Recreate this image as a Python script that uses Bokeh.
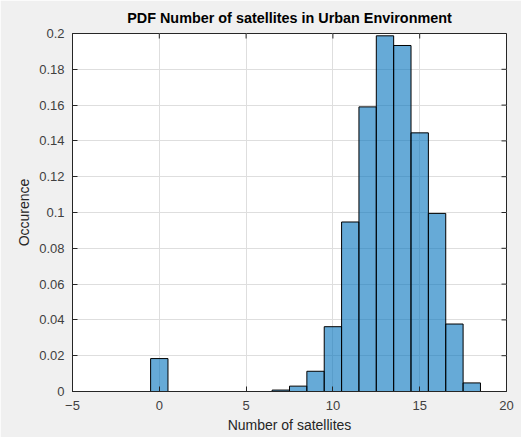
from bokeh.plotting import figure
from bokeh.models import FixedTicker, Range1d, ColumnDataSource
from bokeh.embed import file_html
from bokeh.resources import INLINE

# Data: number of satellites (bin centers) and PDF values
satellites = [0, 7, 8, 9, 10, 11, 12, 13, 14, 15, 16, 17, 18]
pdf = [0.0184, 0.0008, 0.0030, 0.0113, 0.0362, 0.0947, 0.1590, 0.1987,
       0.1933, 0.1445, 0.0995, 0.0377, 0.0048]
bin_width = 1.0

x_ticks = [-5, 0, 5, 10, 15, 20]
y_ticks = [0, 0.02, 0.04, 0.06, 0.08, 0.1, 0.12, 0.14, 0.16, 0.18, 0.2]
y_tick_labels = ["0", "0.02", "0.04", "0.06", "0.08", "0.1", "0.12", "0.14",
                 "0.16", "0.18", "0.2"]
x_min, x_max = -5, 20
y_min, y_max = 0, 0.2

src = ColumnDataSource(dict(
    left=[s - bin_width / 2 for s in satellites],
    right=[s + bin_width / 2 for s in satellites],
    top=pdf,
    bottom=[0] * len(pdf),
))

FONT = "Liberation Sans"

p = figure(width=521, height=437, output_backend="svg", toolbar_location=None,
           x_range=Range1d(x_min, x_max), y_range=Range1d(y_min, y_max),
           min_border_left=72, min_border_right=15, min_border_top=32,
           min_border_bottom=46,
           title="PDF Number of satellites in Urban Environment")

p.background_fill_color = "white"
p.border_fill_color = "#f0f0f0"
p.outline_line_color = "#262626"
p.outline_line_width = 1

p.title.text_font = FONT
p.title.text_font_size = "14.4px"
p.title.text_font_style = "bold"
p.title.text_color = "#000000"
p.title.align = "center"
p.title.offset = 0
p.title.standoff = 15

p.xgrid.ticker = FixedTicker(ticks=x_ticks)
p.ygrid.ticker = FixedTicker(ticks=y_ticks)
p.grid.grid_line_color = "#dedede"
p.grid.grid_line_width = 1

p.quad(left="left", right="right", top="top", bottom="bottom", source=src,
       fill_color="#0072BD", fill_alpha=0.6, line_color="#000000", line_width=1)

for ax in (p.xaxis[0], p.yaxis[0]):
    ax.major_tick_in = 5
    ax.major_tick_out = 0
    ax.minor_tick_in = 0
    ax.minor_tick_out = 0
    ax.axis_line_color = "#262626"
    ax.major_tick_line_color = "#262626"
    ax.major_label_text_font = FONT
    ax.major_label_text_font_size = "13px"
    ax.major_label_text_color = "#404040"
    ax.axis_label_text_font = FONT
    ax.axis_label_text_font_size = "14px"
    ax.axis_label_text_font_style = "normal"
    ax.axis_label_text_color = "#262626"

p.xaxis.ticker = FixedTicker(ticks=x_ticks)
p.yaxis.ticker = FixedTicker(ticks=y_ticks)
p.yaxis.major_label_overrides = {t: l for t, l in zip(y_ticks, y_tick_labels)}
p.xaxis.axis_label = "Number of satellites"
p.yaxis.axis_label = "Occurence"
p.xaxis.major_label_standoff = 9
p.yaxis.major_label_standoff = 8
p.xaxis.axis_label_standoff = 4
p.yaxis.axis_label_standoff = 4

# Box ticks on top and right edges (MATLAB style), drawn inward
p.ray(x=x_ticks, y=[y_max] * len(x_ticks), length=5, length_units="screen",
      angle=-90, angle_units="deg", line_color="#262626", line_width=1)
p.ray(x=[x_max] * len(y_ticks), y=y_ticks, length=5, length_units="screen",
      angle=180, angle_units="deg", line_color="#262626", line_width=1)

open("out.html", "w").write(file_html(p, INLINE))
